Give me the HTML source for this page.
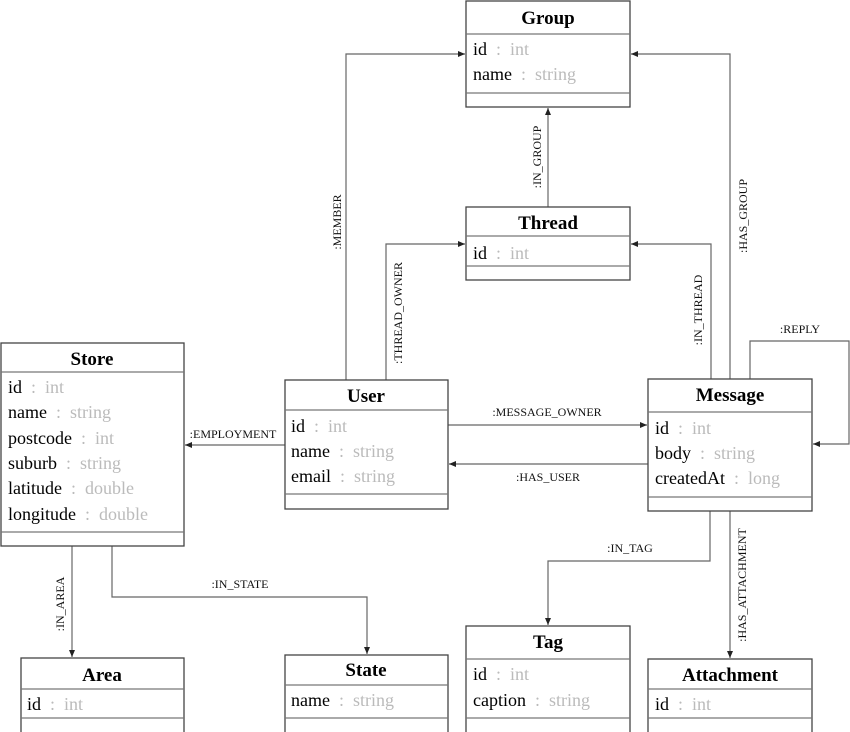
<!DOCTYPE html>
<html><head><meta charset="utf-8"><style>
html,body{margin:0;padding:0;background:#fff;}
svg{display:block;font-family:"Liberation Serif",serif;}
.b{fill:#fff;stroke:#444;stroke-width:1.3}
.s{stroke:#777;stroke-width:1.3}
.t{font-weight:bold;font-size:19px;text-anchor:middle;fill:#000}
.a{font-size:18px;fill:#000}
.g{fill:#bbb}
.l{fill:none;stroke:#666;stroke-width:1.2}
.lb{font-size:12px;fill:#111}
</style></head><body>
<svg width="850" height="732" viewBox="0 0 850 732" xmlns="http://www.w3.org/2000/svg">
<defs><marker id="ar" markerWidth="8" markerHeight="8" refX="7" refY="4" orient="auto" markerUnits="userSpaceOnUse"><path d="M0,1 L7,4 L0,7 z" fill="#222"/></marker></defs>

<path class="l" d="M346,380 V54 H465" marker-end="url(#ar)"/>
<path class="l" d="M386,380 V244 H465" marker-end="url(#ar)"/>
<path class="l" d="M548,207 V108" marker-end="url(#ar)"/>
<path class="l" d="M730,379 V54 H631" marker-end="url(#ar)"/>
<path class="l" d="M711,379 V244 H631" marker-end="url(#ar)"/>
<path class="l" d="M750,379 V341 H849 V444 H813" marker-end="url(#ar)"/>
<path class="l" d="M448,425 H647" marker-end="url(#ar)"/>
<path class="l" d="M648,464 H449" marker-end="url(#ar)"/>
<path class="l" d="M285,445 H185" marker-end="url(#ar)"/>
<path class="l" d="M72,546 V657" marker-end="url(#ar)"/>
<path class="l" d="M112,546 V597 H367 V654" marker-end="url(#ar)"/>
<path class="l" d="M710,511 V561 H548 V625" marker-end="url(#ar)"/>
<path class="l" d="M730,511 V658" marker-end="url(#ar)"/>

<text class="lb" transform="translate(341,222) rotate(-90)" text-anchor="middle">:MEMBER</text>
<text class="lb" transform="translate(402,313) rotate(-90)" text-anchor="middle">:THREAD_OWNER</text>
<text class="lb" transform="translate(541,157) rotate(-90)" text-anchor="middle">:IN_GROUP</text>
<text class="lb" transform="translate(747,216) rotate(-90)" text-anchor="middle">:HAS_GROUP</text>
<text class="lb" transform="translate(702,310) rotate(-90)" text-anchor="middle">:IN_THREAD</text>
<text class="lb" x="800" y="333" text-anchor="middle">:REPLY</text>
<text class="lb" x="547" y="416" text-anchor="middle">:MESSAGE_OWNER</text>
<text class="lb" x="548" y="481" text-anchor="middle">:HAS_USER</text>
<text class="lb" x="233" y="438" text-anchor="middle">:EMPLOYMENT</text>
<text class="lb" transform="translate(64,604) rotate(-90)" text-anchor="middle">:IN_AREA</text>
<text class="lb" x="240" y="588" text-anchor="middle">:IN_STATE</text>
<text class="lb" x="630" y="552" text-anchor="middle">:IN_TAG</text>
<text class="lb" transform="translate(746,585) rotate(-90)" text-anchor="middle">:HAS_ATTACHMENT</text>

<rect class="b" x="466" y="1" width="164" height="106"/>
<line class="s" x1="466" y1="34" x2="630" y2="34"/><line class="s" x1="466" y1="93" x2="630" y2="93"/>
<text class="t" x="548" y="24">Group</text>
<text class="a" x="473" y="55">id <tspan class="g">&#160;:&#160; int</tspan></text>
<text class="a" x="473" y="80">name <tspan class="g">&#160;:&#160; string</tspan></text>

<rect class="b" x="466" y="207" width="164" height="73"/>
<line class="s" x1="466" y1="236" x2="630" y2="236"/><line class="s" x1="466" y1="266" x2="630" y2="266"/>
<text class="t" x="548" y="229">Thread</text>
<text class="a" x="473" y="259">id <tspan class="g">&#160;:&#160; int</tspan></text>

<rect class="b" x="1" y="343" width="183" height="203"/>
<line class="s" x1="1" y1="372" x2="184" y2="372"/><line class="s" x1="1" y1="532" x2="184" y2="532"/>
<text class="t" x="92" y="365">Store</text>
<text class="a" x="8" y="393">id <tspan class="g">&#160;:&#160; int</tspan></text>
<text class="a" x="8" y="418">name <tspan class="g">&#160;:&#160; string</tspan></text>
<text class="a" x="8" y="444">postcode <tspan class="g">&#160;:&#160; int</tspan></text>
<text class="a" x="8" y="469">suburb <tspan class="g">&#160;:&#160; string</tspan></text>
<text class="a" x="8" y="494">latitude <tspan class="g">&#160;:&#160; double</tspan></text>
<text class="a" x="8" y="520">longitude <tspan class="g">&#160;:&#160; double</tspan></text>

<rect class="b" x="285" y="380" width="163" height="129"/>
<line class="s" x1="285" y1="410" x2="448" y2="410"/><line class="s" x1="285" y1="494" x2="448" y2="494"/>
<text class="t" x="366" y="402">User</text>
<text class="a" x="291" y="432">id <tspan class="g">&#160;:&#160; int</tspan></text>
<text class="a" x="291" y="457">name <tspan class="g">&#160;:&#160; string</tspan></text>
<text class="a" x="291" y="482">email <tspan class="g">&#160;:&#160; string</tspan></text>

<rect class="b" x="648" y="379" width="164" height="132"/>
<line class="s" x1="648" y1="412" x2="812" y2="412"/><line class="s" x1="648" y1="497" x2="812" y2="497"/>
<text class="t" x="730" y="401">Message</text>
<text class="a" x="655" y="434">id <tspan class="g">&#160;:&#160; int</tspan></text>
<text class="a" x="655" y="459">body <tspan class="g">&#160;:&#160; string</tspan></text>
<text class="a" x="655" y="484">createdAt <tspan class="g">&#160;:&#160; long</tspan></text>

<rect class="b" x="21" y="658" width="163" height="80"/>
<line class="s" x1="21" y1="689" x2="184" y2="689"/><line class="s" x1="21" y1="718" x2="184" y2="718"/>
<text class="t" x="102" y="681">Area</text>
<text class="a" x="27" y="710">id <tspan class="g">&#160;:&#160; int</tspan></text>

<rect class="b" x="285" y="655" width="163" height="83"/>
<line class="s" x1="285" y1="685" x2="448" y2="685"/><line class="s" x1="285" y1="718" x2="448" y2="718"/>
<text class="t" x="366" y="676">State</text>
<text class="a" x="291" y="706">name <tspan class="g">&#160;:&#160; string</tspan></text>

<rect class="b" x="466" y="626" width="164" height="112"/>
<line class="s" x1="466" y1="659" x2="630" y2="659"/><line class="s" x1="466" y1="718" x2="630" y2="718"/>
<text class="t" x="548" y="648">Tag</text>
<text class="a" x="473" y="680">id <tspan class="g">&#160;:&#160; int</tspan></text>
<text class="a" x="473" y="706">caption <tspan class="g">&#160;:&#160; string</tspan></text>

<rect class="b" x="648" y="659" width="164" height="79"/>
<line class="s" x1="648" y1="689" x2="812" y2="689"/><line class="s" x1="648" y1="718" x2="812" y2="718"/>
<text class="t" x="730" y="681">Attachment</text>
<text class="a" x="655" y="710">id <tspan class="g">&#160;:&#160; int</tspan></text>
</svg>
</body></html>
